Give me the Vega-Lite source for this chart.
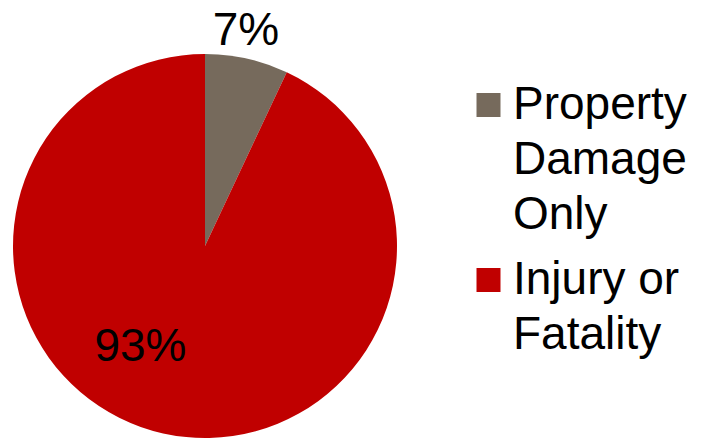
{
  "$schema": "https://vega.github.io/schema/vega-lite/v6.json",
  "width": 384,
  "height": 384,
  "autosize": {"type": "none"},
  "padding": {"left": 13, "top": 54, "right": 304, "bottom": 2},
  "background": "white",
  "config": {
    "view": {"stroke": null},
    "font": "Liberation Sans",
    "style": {"guide-label": {"lineHeight": 55, "dy": 14}}
  },
  "data": {
    "values": [
      {"category": "Property Damage Only", "value": 0.07},
      {"category": "Injury or Fatality", "value": 0.93}
    ]
  },
  "transform": [
    {"stack": "value", "groupby": [], "as": ["v0", "v1"]},
    {"calculate": "(datum.v0 + datum.v1) / 2", "as": "mid"}
  ],
  "layer": [
    {
      "mark": {"type": "arc", "stroke": null},
      "encoding": {
        "theta": {"field": "v0", "type": "quantitative", "scale": {"domain": [0, 1]}},
        "theta2": {"field": "v1"},
        "color": {
          "field": "category",
          "type": "nominal",
          "sort": ["Property Damage Only", "Injury or Fatality"],
          "scale": {"domain": ["Property Damage Only", "Injury or Fatality"], "range": ["#766A5C", "#C00000"]},
          "legend": {
            "title": null,
            "orient": "none",
            "legendX": 452.5,
            "legendY": 28,
            "padding": 0,
            "symbolType": "square",
            "symbolSize": 576,
            "symbolStrokeWidth": 0,
            "labelFontSize": 46,
            "labelFont": "Liberation Sans",
            "labelColor": "black",
            "labelLimit": 0,
            "labelOffset": 1.5,
            "rowPadding": 19,
            "labelBaseline": "alphabetic",
            "labelExpr": "datum.label == 'Property Damage Only' ? ['Property', 'Damage', 'Only'] : ['Injury or', 'Fatality']"
          }
        }
      }
    },
    {
      "transform": [{"filter": "datum.category == 'Property Damage Only'"}],
      "mark": {"type": "text", "radius": 205, "thetaOffset": -0.019, "fontSize": 46, "baseline": "alphabetic", "align": "center", "font": "Liberation Sans", "color": "black"},
      "encoding": {
        "theta": {"field": "mid", "type": "quantitative"},
        "text": {"field": "value", "type": "quantitative", "format": ".0%"}
      }
    },
    {
      "transform": [{"filter": "datum.category == 'Injury or Fatality'"}],
      "mark": {"type": "text", "radius": 132, "thetaOffset": 0.291, "fontSize": 46, "baseline": "alphabetic", "align": "center", "font": "Liberation Sans", "color": "black"},
      "encoding": {
        "theta": {"field": "mid", "type": "quantitative"},
        "text": {"field": "value", "type": "quantitative", "format": ".0%"}
      }
    }
  ]
}
